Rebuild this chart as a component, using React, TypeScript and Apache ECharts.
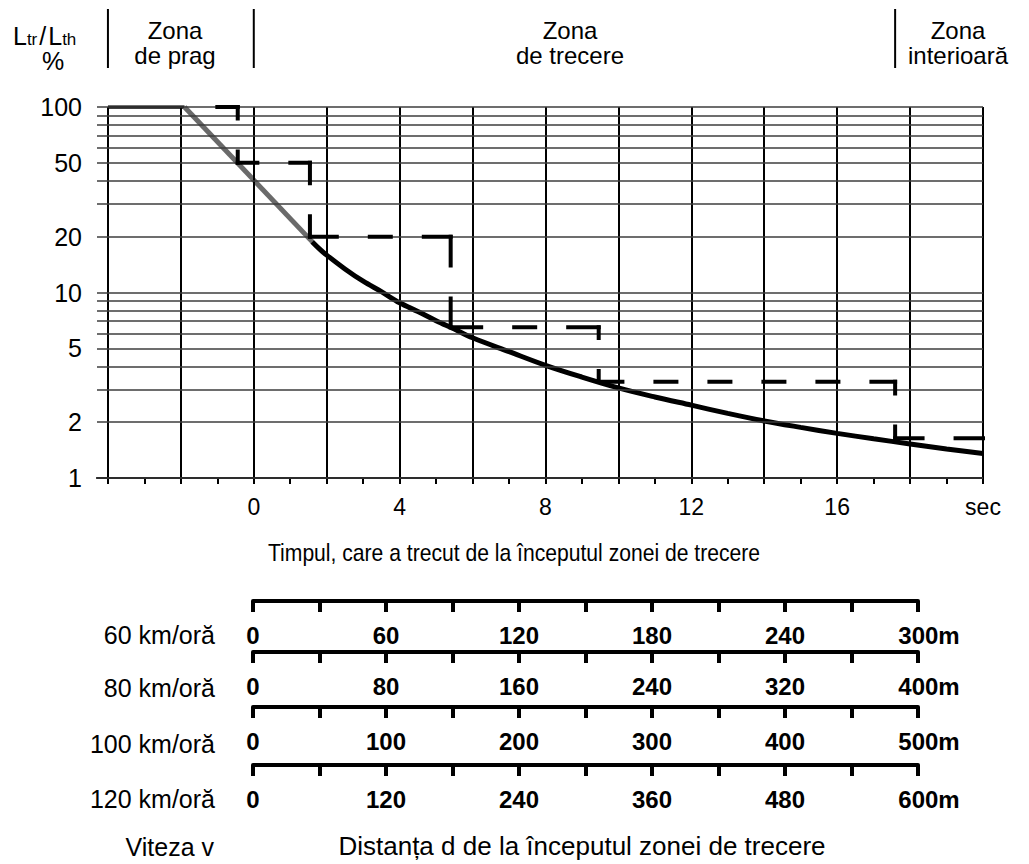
import React, { useEffect, useRef } from "react";
import * as echarts from "echarts";

const FONT = "'Liberation Sans', Arial, Helvetica, sans-serif";

// ---- time axis (seconds from start of transition zone) ----
const timeTicks = [-4, -3, -2, -1, 0, 1, 2, 3, 4, 5, 6, 7, 8, 9, 10, 11, 12, 13, 14, 15, 16, 17, 18, 19, 20];
const timeGridLines = [-4, -2, 0, 2, 4, 6, 8, 10, 12, 14, 16, 18, 20];
const timeLabels = [0, 4, 8, 12, 16, 20];
const timeUnitLabel = "sec";

// ---- luminance ratio axis (log, %) ----
const levelGridLines = [1, 2, 3, 4, 5, 6, 7, 8, 9, 10, 20, 30, 40, 50, 60, 70, 80, 90, 100];
const levelLabels = [1, 2, 5, 10, 20, 50, 100];

// ---- curves [t (sec), Ltr/Lth (%)] ----
const thresholdFlat = [[-4, 100], [-1.9, 100]];
const thresholdRamp = [[-1.9, 100], [1.6, 18.8]];
const transitionCurve = [
  [1.6, 18.8], [1.8, 17.2], [2, 15.9], [2.5, 13.4], [3, 11.5], [3.5, 10.1], [4, 8.8],
  [4.5, 7.9], [5, 7.05], [5.5, 6.35], [6, 5.7], [7, 4.8], [8, 4.05], [9, 3.5],
  [10, 3.06], [11, 2.735], [12, 2.47], [13, 2.23], [14, 2.03], [15, 1.875], [16, 1.74],
  [17, 1.627], [18, 1.526], [19, 1.434], [20, 1.354],
];
const stepLevels = [
  [-1.0, 100], [-0.44, 100], [-0.44, 50], [1.54, 50], [1.54, 20], [5.4, 20], [5.4, 6.5],
  [9.46, 6.5], [9.46, 3.3], [17.59, 3.3], [17.59, 1.64], [20, 1.64],
];

// ---- zones ----
const zoneBounds = [-4, 0, 17.59];
const zoneNames = ["Zona\nde prag", "Zona\nde trecere", "Zona\ninterioară"];

// ---- distance rulers ----
const speedNames = ["60 km/oră", "80 km/oră", "100 km/oră", "120 km/oră"];
const distanceMax = [300, 400, 500, 600];
const distanceLabels = [
  [0, 60, 120, 180, 240, 300],
  [0, 80, 160, 240, 320, 400],
  [0, 100, 200, 300, 400, 500],
  [0, 120, 240, 360, 480, 600],
];

const xTitle = "Timpul, care a trecut de la începutul zonei de trecere";
const speedTitle = "Viteza v";
const distanceTitle = "Distanța d de la începutul zonei de trecere";

// layout (pixels)
const rulerTops = [601, 652, 707, 765];
const speedLabelY = [635, 688, 744, 799];
const zoneTextX = [175, 570, 958];
const DASH = 25;
const GAP = 29;
const STEP_W = 4;

// dash pattern for one stair segment: starts and ends with a dash so the corners stay drawn
function segmentDash(len: number): any {
  let n = Math.round((len - 11) / (DASH + GAP));
  let e = 0;
  while (n > 0) {
    e = (len - n * GAP - (n - 1) * DASH) / 2;
    if (e >= 8) break;
    n -= 1;
  }
  if (n <= 0) return "solid";
  const h = STEP_W / 2;
  const arr: number[] = [Math.max(1, e - h)];
  for (let k = 1; k < n; k++) arr.push(GAP + 2 * h, DASH - 2 * h);
  arr.push(GAP + 2 * h, Math.max(1, e - h), 10000);
  return arr;
}

export default function App() {
  const ref = useRef<HTMLDivElement>(null);

  useEffect(() => {
    if (!ref.current) return;
    const chart = echarts.init(ref.current, undefined, { renderer: "svg" });

    const grids: any[] = [{ left: 97, top: 107, width: 886, height: 371 }];
    const xAxes: any[] = [
      {
        type: "value",
        gridIndex: 0,
        min: -4.3,
        max: 20,
        axisLine: { show: true, onZero: false, lineStyle: { color: "#000", width: 2 } },
        axisTick: { show: true, customValues: timeTicks, length: 6, lineStyle: { color: "#000", width: 2 } },
        axisLabel: {
          show: true,
          customValues: timeLabels,
          formatter: (v: number) => (v === 20 ? timeUnitLabel : String(v)),
          margin: 17,
          color: "#000",
          fontSize: 23,
          fontFamily: FONT,
        },
        splitLine: { show: false },
      },
    ];
    const yAxes: any[] = [
      {
        type: "log",
        gridIndex: 0,
        logBase: 10,
        min: 1,
        max: 100,
        axisLine: { show: false },
        axisTick: { show: false },
        axisLabel: { show: false },
        splitLine: { show: false },
      },
    ];

    rulerTops.forEach((top, i) => {
      grids.push({ left: 253, top, width: 665, height: 20 });
      const max = distanceMax[i];
      xAxes.push({
        type: "value",
        gridIndex: i + 1,
        position: "top",
        min: 0,
        max,
        interval: max / 10,
        axisLine: { show: true, onZero: false, lineStyle: { color: "#000", width: 4 } },
        axisTick: { show: true, inside: true, length: 11, lineStyle: { color: "#000", width: 4 } },
        axisLabel: {
          show: true,
          inside: true,
          margin: 22,
          customValues: distanceLabels[i],
          formatter: (v: number) => (v === max ? `{u|${v}m}` : `${v}`),
          color: "#000",
          fontSize: 24,
          fontWeight: "bold",
          fontFamily: FONT,
          rich: {
            u: { fontSize: 24, fontWeight: "bold", fontFamily: FONT, color: "#000", padding: [0, 0, 0, 22] },
          },
        },
        splitLine: { show: false },
      });
      yAxes.push({ type: "value", gridIndex: i + 1, show: false, min: 0, max: 1 });
    });

    const gridLineData: any[] = [
      ...timeGridLines.map((t) => ({
        xAxis: t,
        lineStyle: { color: "#000", width: 2, type: "solid" },
        label: { show: false },
      })),
      ...levelGridLines.map((v) => ({
        yAxis: v,
        lineStyle: { color: "#3c3c3c", width: 1.5, type: "solid" },
        label: levelLabels.includes(v)
          ? { show: true, position: "start", distance: 15, formatter: String(v), color: "#000", fontSize: 25, fontFamily: FONT }
          : { show: false },
      })),
    ];

    const baseSeries: any[] = [
      {
        type: "line",
        name: "grid",
        xAxisIndex: 0,
        yAxisIndex: 0,
        data: [],
        z: 1,
        silent: true,
        markLine: {
          silent: true,
          symbol: ["none", "none"],
          animation: false,
          label: { show: false },
          data: gridLineData,
        },
      },
      {
        type: "line",
        name: "threshold",
        data: thresholdFlat,
        symbol: "none",
        z: 3,
        lineStyle: { color: "#000", width: 3.5 },
        silent: true,
      },
      {
        type: "line",
        name: "ramp",
        data: thresholdRamp,
        symbol: "none",
        z: 3,
        lineStyle: { color: "#6a6a6a", width: 5 },
        silent: true,
      },
      {
        type: "line",
        name: "transition",
        data: transitionCurve,
        symbol: "none",
        smooth: 0.35,
        z: 4,
        lineStyle: { color: "#000", width: 5 },
        silent: true,
      },
    ];

    chart.setOption({
      animation: false,
      backgroundColor: "#fff",
      grid: grids,
      xAxis: xAxes,
      yAxis: yAxes,
      series: baseSeries,
    });

    // stair line: one series per segment, dash pattern fitted to the segment's drawn length
    const stepSeries: any[] = [];
    for (let i = 0; i < stepLevels.length - 1; i++) {
      const a = chart.convertToPixel({ gridIndex: 0 }, stepLevels[i]) as number[];
      const b = chart.convertToPixel({ gridIndex: 0 }, stepLevels[i + 1]) as number[];
      const len = Math.hypot(b[0] - a[0], b[1] - a[1]);
      stepSeries.push({
        type: "line",
        name: "steps",
        data: [stepLevels[i], stepLevels[i + 1]],
        symbol: "none",
        z: 5,
        silent: true,
        lineStyle: { color: "#000", width: STEP_W, type: segmentDash(len), cap: "square" },
      });
    }

    const bx = zoneBounds.map((t) => chart.convertToPixel({ xAxisIndex: 0 }, t) as number);
    const graphic: any[] = [];
    bx.forEach((x) => {
      graphic.push({
        type: "line",
        shape: { x1: x, y1: 9, x2: x, y2: 68 },
        style: { stroke: "#000", lineWidth: 2 },
        silent: true,
      });
    });
    zoneNames.forEach((name, i) => {
      graphic.push({
        type: "text",
        x: zoneTextX[i],
        y: 43,
        style: {
          text: name,
          fill: "#000",
          fontSize: 24,
          fontFamily: FONT,
          lineHeight: 25,
          align: "center",
          verticalAlign: "middle",
        },
        silent: true,
      });
    });
    graphic.push({
      type: "text",
      x: 13,
      y: 35,
      style: {
        text: "{a|L}{b|tr}{c|/}{a|L}{b|th}",
        fill: "#000",
        align: "left",
        verticalAlign: "middle",
        rich: {
          a: { fontSize: 25, fontFamily: FONT, color: "#000", lineHeight: 26, verticalAlign: "bottom" },
          b: { fontSize: 17, fontFamily: FONT, color: "#000", lineHeight: 17, verticalAlign: "bottom", padding: [0, 1, 0, 0] },
          c: { fontSize: 25, fontFamily: FONT, color: "#000", lineHeight: 26, verticalAlign: "bottom", padding: [0, 2, 0, 1] },
        },
      },
      silent: true,
    });
    graphic.push({
      type: "text",
      x: 53,
      y: 61,
      style: { text: "%", fill: "#000", fontSize: 25, fontFamily: FONT, align: "center", verticalAlign: "middle" },
      silent: true,
    });
    graphic.push({
      type: "text",
      x: 514,
      y: 553,
      scaleX: 0.88,
      style: { text: xTitle, fill: "#000", fontSize: 24, fontFamily: FONT, align: "center", verticalAlign: "middle" },
      silent: true,
    });
    speedNames.forEach((name, i) => {
      graphic.push({
        type: "text",
        x: 215,
        y: speedLabelY[i],
        style: { text: name, fill: "#000", fontSize: 25, fontFamily: FONT, align: "right", verticalAlign: "middle" },
        silent: true,
      });
    });
    graphic.push({
      type: "text",
      x: 214,
      y: 847,
      style: { text: speedTitle, fill: "#000", fontSize: 25, fontFamily: FONT, align: "right", verticalAlign: "middle" },
      silent: true,
    });
    graphic.push({
      type: "text",
      x: 582,
      y: 846,
      style: { text: distanceTitle, fill: "#000", fontSize: 26, fontFamily: FONT, align: "center", verticalAlign: "middle" },
      silent: true,
    });

    chart.setOption({ series: [...baseSeries, ...stepSeries], graphic });

    return () => chart.dispose();
  }, []);

  return (
    <div
      ref={ref}
      style={{ position: "fixed", left: 0, top: 0, width: 1029, height: 864, background: "#fff" }}
    />
  );
}
